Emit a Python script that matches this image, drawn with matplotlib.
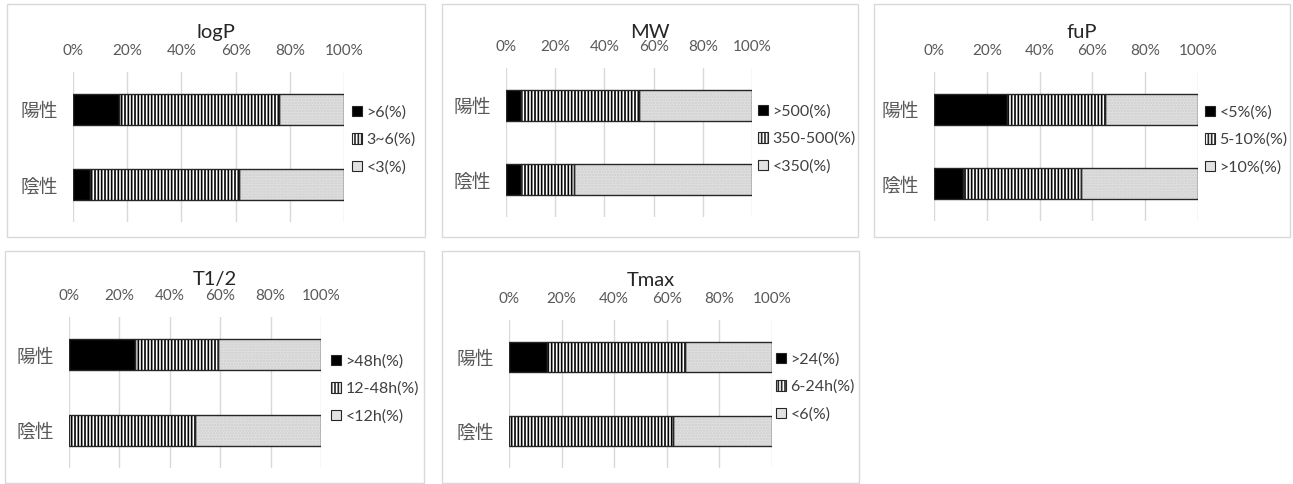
import matplotlib.pyplot as plt
from matplotlib.patches import Patch, Rectangle

plt.rcParams['font.family'] = ['Lato', 'Noto Sans CJK JP', 'DejaVu Sans']
plt.rcParams['hatch.linewidth'] = 1.2

# shares (%) per group: [black, vertical hatch, light gray]
groups = ['陽性', '陰性']

logp_pos = [16.9, 59.0, 24.1]
logp_neg = [6.2, 55.0, 38.8]
logp_labels = ['>6(%)', '3~6(%)', '<3(%)']

mw_pos = [6.2, 47.7, 46.1]
mw_neg = [6.2, 21.5, 72.3]
mw_labels = ['>500(%)', '350-500(%)', '<350(%)']

fup_pos = [27.6, 37.2, 35.2]
fup_neg = [10.8, 44.7, 44.5]
fup_labels = ['<5%(%)', '5-10%(%)', '>10%(%)']

t12_pos = [26.3, 32.7, 41.0]
t12_neg = [0.0, 50.0, 50.0]
t12_labels = ['>48h(%)', '12-48h(%)', '<12h(%)']

tmax_pos = [14.4, 52.4, 33.2]
tmax_neg = [0.0, 62.5, 37.5]
tmax_labels = ['>24(%)', '6-24h(%)', '<6(%)']

ticks = [0, 20, 40, 60, 80, 100]
tick_labels = ['0%', '20%', '40%', '60%', '80%', '100%']

W, H = 1293, 484
fig = plt.figure(figsize=(W / 100, H / 100), dpi=100)

styles = [
    dict(facecolor='black', hatch=None, hcol='black'),
    dict(facecolor='white', hatch='|||||', hcol='black'),
    dict(facecolor='#e2e2e2', hatch='......', hcol='#cdcdcd'),
]


def fig_box(x0, y0, x1, y1):
    return [x0 / W, 1 - y1 / H, (x1 - x0) / W, (y1 - y0) / H]


def panel(title, pos, neg, labels, frame, plot, leg_x, leg_y):
    # chart frame
    fx0, fy0, fx1, fy1 = frame
    fig.patches.append(Rectangle((fx0 / W, 1 - fy1 / H), (fx1 - fx0) / W, (fy1 - fy0) / H,
                                 transform=fig.transFigure, fill=False,
                                 edgecolor='#d9d9d9', linewidth=1))
    fig.text((fx0 + fx1) / 2 / W, 1 - (fy0 + 29) / H, title, ha='center', va='center',
             fontsize=14.5, color='#262626')

    ax = fig.add_axes(fig_box(*plot))
    rows = [pos, neg]
    for yi, vals in enumerate(rows):
        left = 0
        for v, st in zip(vals, styles):
            if v > 0:
                ax.barh(yi, v, left=left, height=0.41, color=st['facecolor'],
                        hatch=st['hatch'], edgecolor=st['hcol'], linewidth=0, zorder=2)
                ax.barh(yi, v, left=left, height=0.41, fill=False,
                        edgecolor='#262626', linewidth=1, zorder=3)
            left += v

    ax.set_xlim(0, 100)
    ax.set_ylim(1.5, -0.5)
    ax.xaxis.tick_top()
    ax.set_xticks(ticks)
    ax.set_xticklabels(tick_labels, fontsize=11, color='#595959')
    ax.set_yticks([0, 1])
    ax.set_yticklabels(groups, fontsize=13.5, color='#595959', family='Noto Sans CJK JP')
    ax.tick_params(length=0)
    ax.tick_params(axis='x', pad=10)
    ax.tick_params(axis='y', pad=11)
    ax.grid(axis='x', color='#d9d9d9', linewidth=1, zorder=0)
    ax.set_axisbelow(True)
    for s in ax.spines.values():
        s.set_visible(False)

    handles = [Patch(facecolor=st['facecolor'], hatch=st['hatch'] if i == 1 else None,
                     edgecolor='#262626', linewidth=0.8, label=lab)
               for i, (st, lab) in enumerate(zip(styles, labels))]
    fig.legend(handles=handles, loc='center left', bbox_to_anchor=(leg_x / W, 1 - leg_y / H),
               frameon=False, fontsize=11.5, handlelength=0.6, handleheight=0.6,
               handletextpad=0.3, labelspacing=0.8, borderpad=0, borderaxespad=0,
               labelcolor='#404040')


panel('logP', logp_pos, logp_neg, logp_labels,
      (7, 4, 425, 237), (73, 72, 344, 222), 352, 140)
panel('MW', mw_pos, mw_neg, mw_labels,
      (442, 4, 858, 237), (506, 68, 752, 217), 758, 139)
panel('fuP', fup_pos, fup_neg, fup_labels,
      (874, 4, 1290, 237), (934, 72, 1198, 221), 1205, 140)
panel('T1/2', t12_pos, t12_neg, t12_labels,
      (5, 251, 424, 483), (69, 317, 321, 468), 331, 389)
panel('Tmax', tmax_pos, tmax_neg, tmax_labels,
      (442, 251, 859, 483), (509, 320, 772, 468), 776, 387)

fig.savefig('out.png', dpi=100, facecolor='white')
